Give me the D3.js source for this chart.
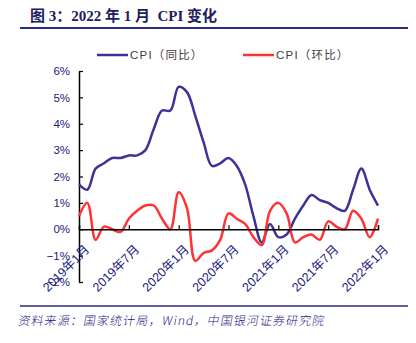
<!DOCTYPE html>
<html><head><meta charset="utf-8">
<script src="https://cdn.jsdelivr.net/npm/d3@7"></script>
<style>
html,body{margin:0;padding:0;background:#fff;}
svg{display:block;}
text{white-space:pre;}
</style></head>
<body>
<svg id="c" width="416" height="343"></svg>
<script>
const months = [
"2019-01","2019-02","2019-03","2019-04","2019-05","2019-06","2019-07","2019-08","2019-09","2019-10","2019-11","2019-12",
"2020-01","2020-02","2020-03","2020-04","2020-05","2020-06","2020-07","2020-08","2020-09","2020-10","2020-11","2020-12",
"2021-01","2021-02","2021-03","2021-04","2021-05","2021-06","2021-07","2021-08","2021-09","2021-10","2021-11","2021-12",
"2022-01"];
const cpiYoY = [1.7,1.5,2.3,2.5,2.7,2.7,2.8,2.8,3.0,3.8,4.5,4.5,
                5.4,5.2,4.3,3.3,2.4,2.5,2.7,2.4,1.7,0.5,-0.5,0.2,
                -0.3,-0.2,0.4,0.9,1.3,1.1,1.0,0.8,0.7,1.5,2.3,1.5,
                0.9];
const cpiMoM = [0.5,1.0,-0.4,0.1,0.0,-0.1,0.4,0.7,0.9,0.9,0.4,0.0,
                1.4,0.8,-1.2,-0.9,-0.8,-0.4,0.6,0.4,0.2,-0.3,-0.6,0.7,
                1.0,0.6,-0.5,-0.3,-0.2,-0.4,0.3,0.1,0.0,0.7,0.4,-0.3,
                0.4];
const seriesNames = ["CPI（同比）","CPI（环比）"];
const seriesColors = ["#3d3397","#ff3333"];
const yTicks = [-2,-1,0,1,2,3,4,5,6];
const xTickLabels = ["2019年1月","2019年7月","2020年1月","2020年7月","2021年1月","2021年7月","2022年1月"];
const xTickIdx = [0,6,12,18,24,30,36];

const svg = d3.select("#c");
const navy = "#1a1a80";

// title
svg.append("text").attr("x",30).attr("y",21)
  .attr("font-family","'Liberation Serif','Noto Sans CJK SC',serif")
  .attr("font-weight","bold").attr("font-size",15).attr("fill","#202060")
  .text("图 3：2022 年 1 月  CPI 变化");
svg.append("line").attr("x1",20).attr("x2",408).attr("y1",28).attr("y2",28)
  .attr("stroke","#2a2a80").attr("stroke-width",2);

// footer
svg.append("line").attr("x1",20).attr("x2",408).attr("y1",306).attr("y2",306)
  .attr("stroke","#2a2a80").attr("stroke-width",1.5);
svg.append("text").attr("x",30).attr("y",325)
  .attr("font-family","'Noto Sans CJK SC','Liberation Serif',serif")
  .attr("font-size",12).attr("letter-spacing",1.1).attr("fill",navy)
  .attr("font-weight",300)
  .attr("transform","translate(45,0) skewX(-10)")
  .text("资料来源：国家统计局，Wind，中国银河证券研究院");

const x = d3.scaleLinear().domain([0,36]).range([79,378]);
const y = d3.scaleLinear().domain([-2,6]).range([282,71]);

// y axis
const yAxis = svg.append("g").attr("transform","translate(79,0)")
  .call(d3.axisLeft(y).tickValues(yTicks).tickSize(0).tickPadding(9)
    .tickFormat(d => (d<0?"−"+Math.abs(d):d)+"%"));
yAxis.select(".domain").attr("stroke","#000").attr("stroke-width",1.5);
yAxis.selectAll("text").attr("font-family","'Liberation Sans',Arial,sans-serif")
  .attr("font-size",11.5).attr("fill",navy);
yAxis.selectAll(".tick").append("line").attr("x1",0).attr("x2",4).attr("stroke","#000").attr("stroke-width",1.2);

// lines
const line = d3.line().x((d,i)=>x(i)).y(d=>y(d)).curve(d3.curveCatmullRom.alpha(0.5));
svg.append("path").datum(cpiYoY).attr("d",line).attr("fill","none")
  .attr("stroke",seriesColors[0]).attr("stroke-width",2.5);
svg.append("path").datum(cpiMoM).attr("d",line).attr("fill","none")
  .attr("stroke",seriesColors[1]).attr("stroke-width",2.5);

// x axis at 0
const xAxis = svg.append("g").attr("transform",`translate(0,${y(0)})`)
  .call(d3.axisTop(x).tickValues(xTickIdx).tickSize(4).tickFormat(""));
xAxis.select(".domain").attr("stroke","#000").attr("stroke-width",1.5);
xAxis.selectAll(".tick line").attr("stroke","#000").attr("stroke-width",1.2);

// x labels
svg.append("g").selectAll("text").data(xTickIdx).join("text")
  .attr("transform",(d)=>`translate(${x(d)+5},${244}) rotate(-45)`)
  .attr("text-anchor","end").attr("dy","0.7em")
  .attr("font-family","'Liberation Sans','Noto Sans CJK SC',sans-serif")
  .attr("font-size",12.5).attr("fill",navy)
  .text((d,i)=>xTickLabels[i]);

// legend
const legX = [97,243];
seriesNames.forEach((n,i)=>{
  svg.append("line").attr("x1",legX[i]).attr("x2",legX[i]+31).attr("y1",55).attr("y2",55)
    .attr("stroke",seriesColors[i]).attr("stroke-width",2.5);
  svg.append("text").attr("x",legX[i]+33).attr("y",59)
    .attr("font-family","'Liberation Sans','Noto Sans CJK SC',sans-serif")
    .attr("font-size",11.5).attr("letter-spacing",1.2).attr("fill","#404040").text(n);
});
</script>
</body></html>
